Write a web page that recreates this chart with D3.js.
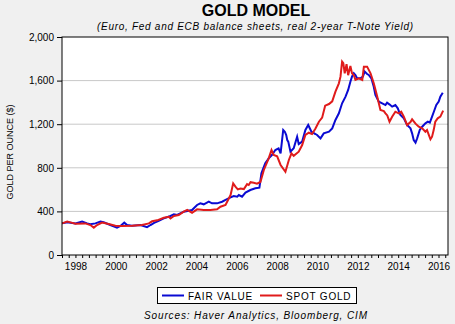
<!DOCTYPE html>
<html>
<head>
<meta charset="utf-8">
<script src="https://cdn.jsdelivr.net/npm/d3@7"></script>
<style>
  body { margin: 0; background: #f0f0f0; }
  svg { display: block; font-family: "Liberation Sans", Arial, sans-serif; }
</style>
</head>
<body>
<svg width="455" height="324"></svg>
<script>
// decimal years
const fairDates = [1997.84, 1998.09, 1998.5, 1998.83, 1999.08, 1999.24, 1999.49, 1999.74, 1999.9, 2000.23, 2000.56, 2000.73, 2000.92, 2001.06, 2001.31, 2001.72, 2002.05, 2002.22, 2002.4, 2002.6, 2002.88, 2003.21, 2003.38, 2003.54, 2003.87, 2004.28, 2004.53, 2004.69, 2004.86, 2005.11, 2005.27, 2005.52, 2005.77, 2005.94, 2006.19, 2006.35, 2006.52, 2006.6, 2006.76, 2006.93, 2007.17, 2007.42, 2007.62, 2007.72, 2007.91, 2008.08, 2008.24, 2008.41, 2008.57, 2008.67, 2008.8, 2008.88, 2008.95, 2009.0, 2009.05, 2009.16, 2009.32, 2009.49, 2009.57, 2009.74, 2009.9, 2010.04, 2010.2, 2010.4, 2010.48, 2010.65, 2010.81, 2011.07, 2011.23, 2011.39, 2011.56, 2011.72, 2011.89, 2012.02, 2012.13, 2012.21, 2012.3, 2012.38, 2012.46, 2012.63, 2012.75, 2012.84, 2012.96, 2013.04, 2013.17, 2013.29, 2013.37, 2013.54, 2013.71, 2013.87, 2013.95, 2014.08, 2014.2, 2014.36, 2014.48, 2014.61, 2014.78, 2014.94, 2015.11, 2015.19, 2015.27, 2015.36, 2015.44, 2015.57, 2015.69, 2015.85, 2015.97, 2016.07, 2016.18, 2016.3, 2016.39, 2016.51, 2016.59, 2016.71];
const fairValue = [290, 300, 290, 306, 290, 282, 290, 306, 300, 275, 251, 266, 297, 275, 269, 275, 255, 275, 295, 310, 336, 358, 373, 367, 397, 413, 459, 474, 465, 489, 474, 474, 489, 505, 529, 541, 535, 550, 535, 572, 596, 612, 618, 750, 841, 887, 917, 963, 979, 933, 1147, 1131, 1101, 1055, 1040, 948, 979, 1085, 1018, 1040, 1147, 1193, 1131, 1110, 1101, 1070, 1116, 1131, 1162, 1239, 1300, 1392, 1453, 1514, 1590, 1636, 1667, 1651, 1621, 1621, 1636, 1682, 1660, 1652, 1621, 1544, 1468, 1407, 1392, 1376, 1398, 1380, 1361, 1376, 1346, 1284, 1254, 1193, 1162, 1116, 1055, 1031, 1070, 1147, 1177, 1208, 1223, 1214, 1269, 1330, 1376, 1407, 1453, 1489];

const spotDates = [1997.84, 1998.09, 1998.3, 1998.5, 1998.99, 1999.24, 1999.41, 1999.57, 1999.82, 2000.15, 2000.48, 2000.81, 2001.31, 2001.8, 2002.14, 2002.3, 2002.55, 2002.88, 2003.13, 2003.21, 2003.38, 2003.62, 2003.87, 2004.04, 2004.28, 2004.53, 2004.86, 2005.19, 2005.52, 2005.69, 2005.94, 2006.19, 2006.32, 2006.44, 2006.55, 2006.68, 2006.85, 2007.01, 2007.09, 2007.18, 2007.34, 2007.5, 2007.67, 2007.84, 2008.08, 2008.22, 2008.33, 2008.5, 2008.67, 2008.91, 2009.08, 2009.21, 2009.32, 2009.57, 2009.74, 2009.9, 2010.07, 2010.23, 2010.4, 2010.57, 2010.73, 2010.88, 2011.07, 2011.23, 2011.39, 2011.56, 2011.64, 2011.72, 2011.78, 2011.85, 2011.94, 2012.02, 2012.13, 2012.21, 2012.3, 2012.38, 2012.55, 2012.72, 2012.8, 2012.96, 2013.13, 2013.29, 2013.46, 2013.62, 2013.79, 2013.87, 2013.96, 2014.07, 2014.2, 2014.36, 2014.53, 2014.65, 2014.78, 2014.94, 2015.11, 2015.19, 2015.36, 2015.52, 2015.69, 2015.85, 2015.93, 2016.1, 2016.18, 2016.26, 2016.34, 2016.46, 2016.59, 2016.73];
const spotValue = [290, 306, 297, 287, 290, 275, 251, 275, 297, 285, 269, 266, 269, 275, 290, 309, 318, 342, 350, 335, 358, 367, 397, 413, 388, 419, 413, 413, 419, 443, 459, 550, 657, 625, 602, 610, 605, 650, 642, 668, 663, 655, 670, 780, 887, 963, 917, 905, 826, 764, 872, 933, 910, 948, 1009, 1101, 1122, 1110, 1160, 1223, 1260, 1370, 1385, 1410, 1498, 1575, 1636, 1774, 1760, 1667, 1750, 1650, 1734, 1667, 1651, 1606, 1621, 1606, 1728, 1728, 1667, 1575, 1453, 1330, 1320, 1300, 1280, 1223, 1269, 1315, 1300, 1315, 1269, 1193, 1220, 1245, 1205, 1177, 1162, 1131, 1146, 1061, 1085, 1146, 1223, 1254, 1269, 1324];

const yTicks = [0, 400, 800, 1200, 1600, 2000];
const yearLabels = ['1998', '2000', '2002', '2004', '2006', '2008', '2010', '2012', '2014', '2016'];

const svg = d3.select('svg');
const plotLeft = 62, plotRight = 448, plotTop = 37, plotBottom = 255;

const x = d3.scaleLinear().domain([1997.833, 2016.97]).range([plotLeft, plotRight]);
const y = d3.scaleLinear().domain([0, 2000]).range([plotBottom, plotTop]);

svg.append('rect')
    .attr('x', plotLeft).attr('y', plotTop)
    .attr('width', plotRight - plotLeft).attr('height', plotBottom - plotTop)
    .attr('fill', '#fff');

// grid
svg.append('g').selectAll('line')
    .data(yTicks.filter(d => d > 0 && d < 2000))
    .join('line')
    .attr('x1', plotLeft).attr('x2', plotRight)
    .attr('y1', d => y(d)).attr('y2', d => y(d))
    .attr('stroke', '#c8c8c8').attr('stroke-width', 1);

// titles
svg.append('text')
    .attr('x', 256).attr('y', 16)
    .attr('text-anchor', 'middle')
    .attr('font-size', 16).attr('font-weight', 'bold')
    .text('GOLD MODEL');

svg.append('text')
    .attr('x', 97).attr('y', 30)
    .attr('font-size', 10).attr('font-style', 'italic')
    .attr('textLength', 316).attr('lengthAdjust', 'spacing')
    .text('(Euro, Fed and ECB balance sheets, real 2-year T-Note Yield)');

// y axis
const yAxis = svg.append('g')
    .attr('transform', `translate(${plotLeft},0)`)
    .call(d3.axisLeft(y).tickValues(yTicks).tickSize(5).tickPadding(3).tickFormat(d3.format(',')));
yAxis.select('.domain').remove();
yAxis.selectAll('text').attr('font-size', 10).attr('font-family', null).attr('fill', '#000');
yAxis.selectAll('line').attr('stroke', '#000');

svg.append('text')
    .attr('transform', 'translate(13,152) rotate(-90)')
    .attr('text-anchor', 'middle')
    .attr('font-size', 9)
    .text('GOLD PER OUNCE ($)');

// x axis: minor ticks every 4 months, labels centred on the years
const minor = d3.range(0, 58).map(k => 1997.833 + k / 3);
const xMinor = svg.append('g')
    .attr('transform', `translate(0,${plotBottom})`)
    .call(d3.axisBottom(x).tickValues(minor).tickSize(3).tickFormat(''));
xMinor.select('.domain').remove();
xMinor.selectAll('line').attr('stroke', '#000');

const xLab = svg.append('g')
    .attr('transform', `translate(0,${plotBottom})`)
    .call(d3.axisBottom(x).tickValues(yearLabels.map(d => +d + 0.5)).tickSize(0).tickPadding(8).tickFormat(d => String(Math.floor(d))));
xLab.select('.domain').remove();
xLab.selectAll('text').attr('font-size', 10).attr('font-family', null).attr('fill', '#000');

// lines
const line = d3.line().x(d => x(d[0])).y(d => y(d[1]));

svg.append('path')
    .datum(fairDates.map((d, i) => [d, fairValue[i]]))
    .attr('d', line)
    .attr('fill', 'none').attr('stroke', '#0a0ad2').attr('stroke-width', 2);

svg.append('path')
    .datum(spotDates.map((d, i) => [d, spotValue[i]]))
    .attr('d', line)
    .attr('fill', 'none').attr('stroke', '#e01b1b').attr('stroke-width', 2);

// frame
svg.append('rect')
    .attr('x', plotLeft).attr('y', plotTop)
    .attr('width', plotRight - plotLeft).attr('height', plotBottom - plotTop)
    .attr('fill', 'none').attr('stroke', '#000');

// legend
const legend = svg.append('g');
legend.append('rect')
    .attr('x', 157.5).attr('y', 287.5).attr('width', 199).attr('height', 16)
    .attr('fill', '#fff').attr('stroke', '#000');
const items = [
    { label: 'FAIR VALUE', color: '#0a0ad2', x: 162 },
    { label: 'SPOT GOLD', color: '#e01b1b', x: 260 }
];
items.forEach(it => {
    legend.append('line')
        .attr('x1', it.x).attr('x2', it.x + 22)
        .attr('y1', 295.5).attr('y2', 295.5)
        .attr('stroke', it.color).attr('stroke-width', 2);
    legend.append('text')
        .attr('x', it.x + 26).attr('y', 299.5)
        .attr('font-size', 10).attr('letter-spacing', 0.8)
        .text(it.label);
});

svg.append('text')
    .attr('x', 144).attr('y', 319)
    .attr('font-size', 10).attr('font-style', 'italic')
    .attr('textLength', 223).attr('lengthAdjust', 'spacing')
    .text('Sources: Haver Analytics, Bloomberg, CIM');
</script>
</body>
</html>
